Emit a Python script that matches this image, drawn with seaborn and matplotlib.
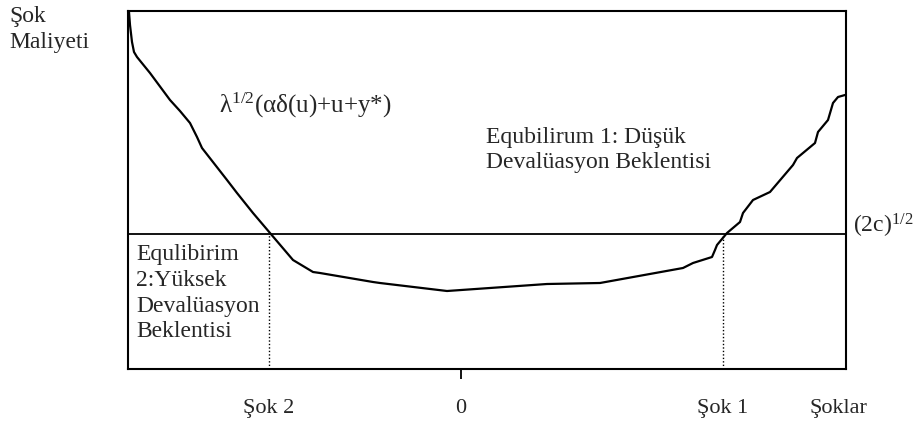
import matplotlib
matplotlib.use("Agg")
import matplotlib.pyplot as plt
import seaborn as sns
import pandas as pd

# ---- data (shock on x, cost on y) ----
curve_x = [-3.32, -3.31, -3.29, -3.27, -3.24, -3.11, -2.91, -2.81, -2.71, -2.64,
           -2.59, -2.34, -2.24, -2.08, -1.91, -1.68, -1.48, -1.41, -0.88, -0.81,
           -0.14, 0.86, 1.39, 2.22, 2.32, 2.51, 2.54, 2.56, 2.66, 2.79,
           2.82, 2.92, 3.09, 3.32, 3.36, 3.54, 3.57, 3.67, 3.72, 3.77, 3.84]
curve_y = [3.57, 3.44, 3.27, 3.17, 3.12, 2.96, 2.69, 2.58, 2.46, 2.32,
           2.21, 1.89, 1.76, 1.56, 1.36, 1.09, 0.97, 0.96, 0.87, 0.86,
           0.78, 0.85, 0.86, 1.01, 1.06, 1.12, 1.19, 1.24, 1.36, 1.47,
           1.56, 1.69, 1.77, 2.04, 2.11, 2.26, 2.37, 2.49, 2.66, 2.72, 2.74]
threshold = 1.35          # (2c)^{1/2}
shock2 = -1.92
shock1 = 2.62
x_limits = [-3.33, 3.85]
y_limits = [0.0, 3.58]
tick_pos = [shock2, 0.0, shock1, 3.77]
tick_labels = ["Şok 2", "0", "Şok 1", "Şoklar"]

df = pd.DataFrame({"x": curve_x, "y": curve_y})

sns.set_theme(style="white")
plt.rcParams["font.family"] = ["Liberation Serif", "DejaVu Serif"]
plt.rcParams["mathtext.fontset"] = "custom"
plt.rcParams["mathtext.rm"] = "Liberation Serif"
plt.rcParams["mathtext.it"] = "Liberation Serif"

FS = 17

fig = plt.figure(figsize=(9.24, 4.21), dpi=100)
ax = fig.add_axes([128 / 924, 52 / 421, 718 / 924, 358 / 421])

sns.lineplot(data=df, x="x", y="y", sort=False, color="black", linewidth=1.6, ax=ax)
ax.axhline(threshold, color="black", linewidth=1.3)
ax.plot([shock2, shock2], [0, threshold], color="black", linestyle=(0, (1, 1.5)), linewidth=1.0)
ax.plot([shock1, shock1], [0, threshold], color="black", linestyle=(0, (1, 1.5)), linewidth=1.0)

ax.set_xlim(*x_limits)
ax.set_ylim(*y_limits)
ax.set_xlabel("")
ax.set_ylabel("")
ax.set_yticks([])
ax.set_xticks(tick_pos)
ax.set_xticklabels(tick_labels, fontsize=16)
ax.tick_params(axis="x", direction="out", length=7.5, width=1.3, pad=14, color="black",
               bottom=True)
for i, t in enumerate(ax.xaxis.get_major_ticks()):
    if i != 1:
        t.tick1line.set_visible(False)
for s in ax.spines.values():
    s.set_visible(True)
    s.set_color("black")
    s.set_linewidth(1.5)
ax.grid(False)

ax.text(-2.42, 2.56, r"λ$^{1/2}$(αδ(u)+u+y*)", fontsize=FS + 1, ha="left", va="baseline")
ax.text(0.25, 2.01, "Equbilirum 1: Düşük\nDevalüasyon Beklentisi", fontsize=FS,
        ha="left", va="baseline", linespacing=1.25)
ax.text(-3.25, 1.25, "Equlibirim\n2:Yüksek\nDevalüasyon\nBeklentisi", fontsize=FS,
        ha="left", va="top", linespacing=1.3)
ax.text(3.92, 1.36, r"(2c)$^{1/2}$", fontsize=FS, ha="left", va="baseline")
fig.text(9 / 924, 1 - 6 / 421, "Şok\nMaliyeti", fontsize=FS, ha="left", va="top",
         linespacing=1.3)

fig.savefig("out.png", dpi=100)
